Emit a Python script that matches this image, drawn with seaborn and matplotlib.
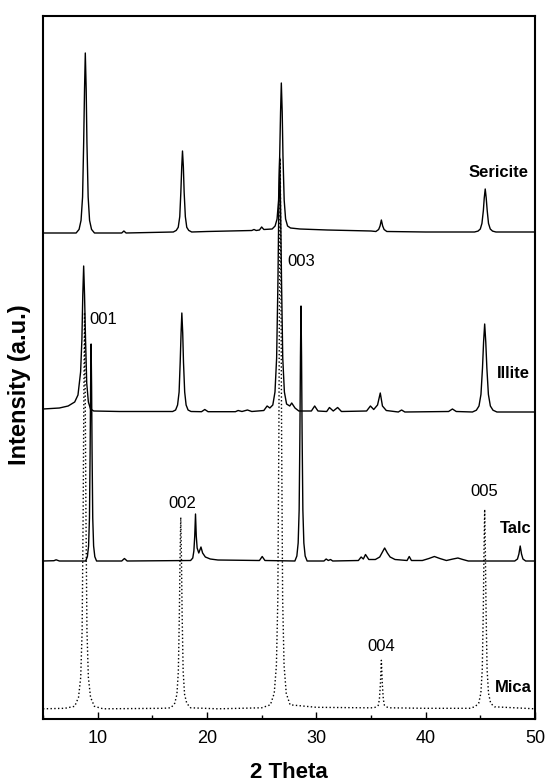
import numpy as np
import pandas as pd
import seaborn as sns
import matplotlib.pyplot as plt
from matplotlib.ticker import MultipleLocator

# XRD traces: 2-theta (deg) and intensity above each trace's own baseline (a.u.)
sericite_2t = [5.0, 8.03, 8.30, 8.48, 8.62, 8.72, 8.80, 8.87, 8.95, 9.02, 9.13, 9.26, 9.44, 9.71,
               12.2, 12.4, 12.6,
               16.92, 17.19, 17.37, 17.51, 17.61, 17.69, 17.76, 17.84, 17.91, 18.02, 18.15, 18.33, 18.60,
               20.0, 24.1, 24.3, 24.5, 24.8, 25.0, 25.2,
               25.96, 26.23, 26.41, 26.55, 26.65, 26.73, 26.8, 26.88, 26.95, 27.06, 27.19, 27.37, 27.64,
               28.5, 31.0, 35.0, 35.45, 35.7, 35.83, 35.95, 36.07, 36.2, 36.45, 40.0,
               44.47, 44.79, 45.0, 45.15, 45.28, 45.36, 45.45, 45.54, 45.63, 45.75, 45.91, 46.12, 46.43,
               50.0]
sericite_int = [0, 0, 3.6, 12.6, 36, 90, 144, 180, 144, 90, 36, 12.6, 3.6, 0,
                0, 2, 0,
                1, 2.6, 5.7, 16.4, 41, 66, 82, 66, 41, 16.4, 5.7, 2.6, 1,
                1.5, 2.5, 3.5, 2.5, 3, 6, 3.5,
                4, 7, 14, 33, 77, 121, 150, 121, 77, 33, 14, 7, 5,
                4, 3, 2, 1.5, 3.5, 7, 13, 7, 3.5, 1.5, 1,
                1, 1.9, 4, 9.6, 22.5, 35, 44, 35, 22.5, 9.6, 4, 1.9, 1,
                1]

illite_2t = [5.0, 6.5, 7.3, 7.9, 8.2, 8.44, 8.56, 8.64, 8.72, 8.80, 8.89, 9.0, 9.15, 9.35, 9.64, 12.0,
             16.86, 17.13, 17.31, 17.45, 17.55, 17.63, 17.7, 17.78, 17.85, 17.96, 18.09, 18.27, 18.54,
             19.5, 19.8, 20.1, 22.6, 22.85, 23.2, 23.7, 24.1, 25.2, 25.5, 25.75,
             26.02, 26.22, 26.37, 26.49, 26.57, 26.65, 26.73, 26.82, 26.93, 27.08, 27.28, 27.57,
             27.75, 28.05, 28.4, 29.55, 29.85, 30.15, 30.95, 31.2, 31.55, 31.95, 32.3,
             34.6, 34.95, 35.25, 35.6, 35.85, 36.05, 36.4, 37.5, 37.8, 38.1, 42.1, 42.45, 42.8,
             44.28, 44.64, 44.88, 45.06, 45.2, 45.3, 45.4, 45.5, 45.6, 45.74, 45.92, 46.16, 46.52,
             50.0]
illite_int = [3, 4, 6, 10, 17, 40, 73, 117, 146, 117, 73, 29, 10, 3, 1, 0.5,
              0.5, 2, 7, 20, 50, 79, 99, 79, 50, 20, 7, 2, 0.5,
              0.3, 2.5, 0.3, 0.3, 1.5, 0.5, 2, 0.5, 1.5, 6, 4,
              7, 20, 54, 130, 206, 254, 206, 130, 54, 20, 8, 6,
              9, 4, 1, 1, 6, 1, 0.5, 4.5, 1, 4.5, 0.5,
              1, 6, 2.5, 7, 19, 6, 1.5, 0, 2, 0, 0.5, 3, 0.5,
              0, 1.8, 6, 17.6, 44, 70, 88, 70, 44, 17.6, 6, 1.8, 0,
              0]

talc_2t = [5.0, 6.0, 6.2, 6.5,
           8.9, 9.06, 9.17, 9.25, 9.31, 9.355, 9.4, 9.445, 9.49, 9.55, 9.63, 9.74, 9.9,
           12.2, 12.45, 12.7,
           18.5, 18.7, 18.8, 18.88, 18.95, 19.02, 19.1, 19.25, 19.45, 19.6, 19.85, 20.3, 21.0,
           24.8, 25.05, 25.3,
           28.04, 28.22, 28.34, 28.43, 28.5, 28.55, 28.6, 28.65, 28.7, 28.77, 28.86, 28.98, 29.16,
           30.7, 30.9, 31.1, 31.3, 31.5, 33.85, 34.1, 34.3, 34.5, 34.8,
           35.4, 35.8, 36.0, 36.25, 36.5, 36.75, 37.2, 38.3, 38.5, 38.7,
           39.7, 40.3, 40.8, 41.3, 41.9, 42.5, 42.95, 43.4, 43.9,
           48.15, 48.4, 48.53, 48.65, 48.77, 48.9, 49.15, 50.0]
talc_int = [0, 0.3, 1.2, 0,
            0, 4.3, 15, 43, 108, 174, 217, 174, 108, 43, 15, 4.3, 0,
            0, 2.5, 0,
            0.5, 3, 10, 25, 47, 25, 13, 8, 14, 8, 4, 2, 1,
            0.5, 4.5, 0.5,
            0, 5, 18, 51, 128, 204, 255, 204, 128, 51, 18, 5, 0,
            0, 2, 0.5, 1.5, 0, 0.5, 4, 2, 6.5, 1.5,
            1.5, 4, 8, 13, 8, 4, 1.5, 0.5, 4.5, 0.5,
            0.5, 2.5, 4.5, 2.5, 0.5, 2, 3, 1.5, 0,
            0, 2, 7, 15, 7, 2, 0, 0]

mica_2t = [5.0, 7.0, 7.9, 8.25, 8.45, 8.58, 8.675, 8.74, 8.8, 8.86, 8.925, 9.02, 9.15, 9.35, 9.7,
           10.5, 16.0, 16.7, 17.05, 17.25, 17.38, 17.475, 17.54, 17.6, 17.66, 17.725, 17.82, 17.95,
           18.15, 18.5, 21.0, 25.0,
           25.8, 26.15, 26.35, 26.48, 26.575, 26.64, 26.7, 26.76, 26.825, 26.92, 27.05, 27.25, 27.6,
           30.0, 34.5, 35.25, 35.5, 35.67, 35.77, 35.86, 35.95, 36.04, 36.13, 36.23, 36.4, 36.65,
           40.0, 44.0, 44.5, 44.85, 45.05, 45.18, 45.275, 45.34, 45.4, 45.46, 45.525, 45.62, 45.75,
           45.95, 46.3, 50.0]
mica_int = [0.5, 1, 3, 12, 32, 79, 199, 318, 397, 318, 199, 79, 32, 12, 3,
            0.5, 1, 1.5, 6, 15, 38, 96, 154, 192, 154, 96, 38, 15,
            6, 1.5, 0.5, 1.5,
            4.5, 16, 44, 110, 276, 441, 551, 441, 276, 110, 44, 16, 4.5,
            2, 1.5, 1.5, 2.5, 4, 10, 25, 49, 25, 10, 4, 2.5, 1.5,
            1, 1, 2.5, 6, 16, 40, 100, 160, 200, 160, 100, 40, 16,
            6, 2.5, 0.5]

names = ["Sericite", "Illite", "Talc", "Mica"]
offsets = [486, 307, 158, 9.7]

frames = []
for name, tt, it, off in zip(names,
                             [sericite_2t, illite_2t, talc_2t, mica_2t],
                             [sericite_int, illite_int, talc_int, mica_int],
                             offsets):
    frames.append(pd.DataFrame({"two_theta": tt, "intensity": np.array(it) + off, "sample": name}))
df = pd.concat(frames, ignore_index=True)

sns.set_theme(style="ticks")
plt.rcParams["font.family"] = ["Liberation Sans", "DejaVu Sans"]
plt.rcParams["text.color"] = "black"
plt.rcParams["axes.labelcolor"] = "black"
plt.rcParams["xtick.color"] = "black"

fig = plt.figure(figsize=(5.47, 7.84), dpi=100)
ax = fig.add_axes([0.0786, 0.0829, 0.8994, 0.8967])

for name in names:
    sub = df[df["sample"] == name]
    ls = (0, (1, 1.7)) if name == "Mica" else "-"
    sns.lineplot(data=sub, x="two_theta", y="intensity", ax=ax, color="black",
                 linewidth=1.0, linestyle=ls, estimator=None, sort=False)

# sample names
ax.text(49.45, 546, "Sericite", ha="right", va="center", fontsize=12, fontweight="bold")
ax.text(49.5, 346, "Illite", ha="right", va="center", fontsize=12, fontweight="bold")
ax.text(49.65, 191, "Talc", ha="right", va="center", fontsize=12, fontweight="bold")
ax.text(49.75, 32, "Mica", ha="right", va="center", fontsize=12, fontweight="bold")

# reflection labels
ax.text(9.24, 399, "001", ha="left", va="center", fontsize=12)
ax.text(17.76, 216, "002", ha="center", va="center", fontsize=12)
ax.text(27.37, 457, "003", ha="left", va="center", fontsize=12)
ax.text(35.93, 73, "004", ha="center", va="center", fontsize=12)
ax.text(45.4, 228, "005", ha="center", va="center", fontsize=12)

ax.set_xlim(5, 50)
ax.set_ylim(0, 703)
ax.xaxis.set_major_locator(MultipleLocator(10))
ax.xaxis.set_minor_locator(MultipleLocator(5))
ax.tick_params(axis="x", which="major", direction="in", length=5, width=1, labelsize=13, pad=8)
ax.tick_params(axis="x", which="minor", direction="in", length=3, width=1)
ax.set_yticks([])
for s in ax.spines.values():
    s.set_linewidth(1.5)
    s.set_color("black")

ax.set_xlabel("2 Theta", fontsize=16, fontweight="bold", labelpad=11)
ax.set_ylabel("Intensity (a.u.)", fontsize=17, fontweight="bold")
ax.yaxis.set_label_coords(-0.024, 0.475)

plt.savefig("out.png", dpi=100)
